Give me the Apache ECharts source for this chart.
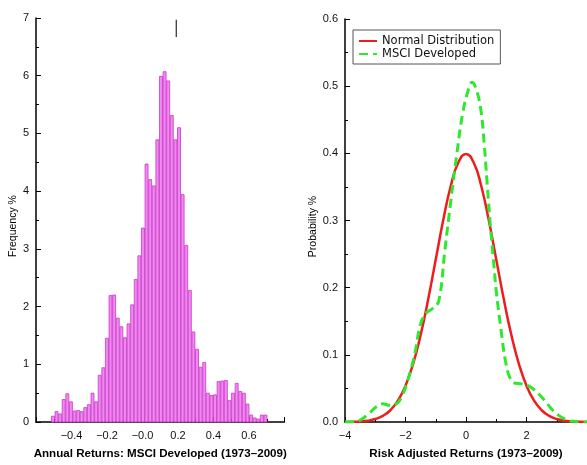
<!DOCTYPE html>
<html>
<head>
<meta charset="utf-8">
<script src="https://cdn.jsdelivr.net/npm/echarts@6/dist/echarts.min.js"></script>
<style>
  html, body { margin: 0; padding: 0; background: #fff; }
  #chart { width: 587px; height: 465px; }
</style>
</head>
<body>
<div id="chart"></div>
<script>
// Histogram of annual returns: bin layout and frequencies (%)
const binStart = -0.515;   // left edge of the first bin
const binWidth = 0.0203;
const frequency = [
  0.10, 0.18, 0.14, 0.39, 0.49, 0.35, 0.19, 0.20, 0.18, 0.25,
  0.30, 0.50, 0.35, 0.81, 0.94, 1.45, 2.19, 2.20, 1.80, 1.65,
  1.46, 1.70, 2.03, 2.47, 2.88, 3.36, 4.47, 4.20, 4.09, 4.89,
  5.99, 6.07, 5.91, 5.31, 4.89, 5.10, 3.94, 3.06, 2.28, 1.56,
  1.26, 0.95, 1.03, 0.50, 0.46, 0.47, 0.70, 0.71, 0.72, 0.37,
  0.50, 0.67, 0.53, 0.50, 0.31, 0.12, 0.07, 0.05, 0.12, 0.12
];
// small vertical marker near the top of the histogram
const meanTick = [[0.19, 6.67], [0.19, 6.97]];

const histXTicks = { min: -0.6, max: 0.8, interval: 0.2 };
const histYTicks = { min: 0, max: 7, interval: 1 };

// Standard normal density, sampled every 0.25
const normalX = [-4, -3.75, -3.5, -3.25, -3, -2.75, -2.5, -2.25, -2, -1.75, -1.5, -1.25, -1, -0.75, -0.5, -0.25,
                 0, 0.25, 0.5, 0.75, 1, 1.25, 1.5, 1.75, 2, 2.25, 2.5, 2.75, 3, 3.25, 3.5, 3.75, 4];
const normalY = [0.0001, 0.0004, 0.0009, 0.0020, 0.0044, 0.0091, 0.0175, 0.0317, 0.0540, 0.0863, 0.1295, 0.1826, 0.2420, 0.3011, 0.3521, 0.3867,
                 0.3989, 0.3867, 0.3521, 0.3011, 0.2420, 0.1826, 0.1295, 0.0863, 0.0540, 0.0317, 0.0175, 0.0091, 0.0044, 0.0020, 0.0009, 0.0004, 0.0001];

// Estimated density of the risk-adjusted MSCI Developed returns
const msciX = [-4.0, -3.7, -3.45, -3.2, -2.95, -2.75, -2.55, -2.3, -2.1, -1.9, -1.7, -1.5, -1.3, -1.1, -0.9, -0.7, -0.5, -0.3, -0.1,
               0.1, 0.2, 0.35, 0.5, 0.6, 0.7, 0.8, 0.9, 1.0, 1.15, 1.3, 1.45, 1.6, 1.8, 2.0, 2.2, 2.4, 2.6, 2.8, 3.0, 3.2, 3.4, 3.6, 3.8, 4.0];
const msciY = [0.000, 0.000, 0.004, 0.013, 0.023, 0.027, 0.025, 0.027, 0.040, 0.066, 0.100, 0.146, 0.163, 0.169, 0.180, 0.255, 0.330, 0.400, 0.462,
               0.498, 0.506, 0.494, 0.462, 0.415, 0.355, 0.295, 0.245, 0.195, 0.140, 0.092, 0.066, 0.058, 0.057, 0.055, 0.050, 0.042, 0.032, 0.021, 0.012, 0.006, 0.002, 0.001, 0.000, 0.000];

const densXTicks = { min: -4, max: 4, interval: 2 };
const densYTicks = { min: 0, max: 0.6, interval: 0.1 };

const FONT = '"Liberation Sans", Arial, sans-serif';
const WIDE_FONT = '"DejaVu Sans", Verdana, sans-serif';
const MINUS = '\u2212';

function fmt(v, digits) {
  const s = Math.abs(v).toFixed(digits);
  return (v < 0 || Object.is(v, -0)) ? MINUS + s : s;
}

const axisLine = { show: true, onZero: false, lineStyle: { color: '#000', width: 1.5 } };
const axisTick = { show: true, inside: true, length: 5, lineStyle: { color: '#000', width: 1 } };
const minorTick = { show: true, splitNumber: 2, length: 3, lineStyle: { color: '#000', width: 1 } };
const tickLabel = { color: '#111', fontSize: 11, fontFamily: FONT };
const nameStyleX = { color: '#000', fontSize: 11.6, fontWeight: 'bold', fontFamily: FONT };
const nameStyleY = { color: '#000', fontSize: 10.5, fontFamily: FONT, padding: [0, 12, 0, 0] };

const histData = frequency.map((v, i) => [binStart + i * binWidth, binStart + (i + 1) * binWidth, v]);

const chart = echarts.init(document.getElementById('chart'), null, { renderer: 'canvas' });
chart.setOption({
  animation: false,
  backgroundColor: '#fff',
  grid: [
    { left: 36, top: 18, width: 248.5, height: 416 },
    { left: 345, top: 19, width: 244, height: 415 }
  ],
  legend: {
    left: 353, top: 30,
    orient: 'vertical',
    data: ['Normal Distribution', 'MSCI Developed'],
    itemWidth: 18, itemHeight: 10, itemGap: 1,
    padding: [5, 6, 4, 5],
    borderColor: '#555', borderWidth: 1,
    itemStyle: { opacity: 0, borderWidth: 0 },
    textStyle: { color: '#111', fontSize: 11.5, fontFamily: WIDE_FONT }
  },
  xAxis: [
    {
      gridIndex: 0, type: 'value', ...histXTicks,
      name: 'Annual Returns: MSCI Developed (1973\u20132009)', nameLocation: 'middle', nameGap: 26,
      nameTextStyle: nameStyleX,
      axisLine, axisTick, minorTick, splitLine: { show: false },
      axisLabel: { ...tickLabel, margin: 8, showMinLabel: false, showMaxLabel: false,
        formatter: v => (Math.abs(v) < 1e-9 ? MINUS + '0.0' : fmt(v, 1)) }
    },
    {
      gridIndex: 1, type: 'value', ...densXTicks,
      name: 'Risk Adjusted Returns (1973\u20132009)', nameLocation: 'middle', nameGap: 26,
      nameTextStyle: nameStyleX,
      axisLine, axisTick, minorTick, splitLine: { show: false },
      axisLabel: { ...tickLabel, margin: 8, showMaxLabel: false, formatter: v => fmt(v, 0) }
    }
  ],
  yAxis: [
    {
      gridIndex: 0, type: 'value', ...histYTicks,
      name: 'Frequency %', nameLocation: 'middle', nameGap: 17, nameTextStyle: nameStyleY,
      axisLine, axisTick, minorTick, splitLine: { show: false },
      axisLabel: { ...tickLabel, margin: 7 }
    },
    {
      gridIndex: 1, type: 'value', ...densYTicks,
      name: 'Probability %', nameLocation: 'middle', nameGap: 26, nameTextStyle: nameStyleY,
      axisLine, axisTick, minorTick, splitLine: { show: false },
      axisLabel: { ...tickLabel, margin: 7, formatter: v => v.toFixed(1) }
    }
  ],
  series: [
    {
      type: 'custom', xAxisIndex: 0, yAxisIndex: 0,
      data: histData,
      encode: { x: [0, 1], y: 2 },
      renderItem: function (params, api) {
        const p0 = api.coord([api.value(0), api.value(2)]);
        const p1 = api.coord([api.value(1), 0]);
        return {
          type: 'rect',
          shape: { x: p0[0] + 0.3, y: p0[1], width: p1[0] - p0[0] - 0.6, height: p1[1] - p0[1] },
          style: { fill: '#f584f5', stroke: '#c23fc2', lineWidth: 0.8 }
        };
      }
    },
    {
      type: 'line', xAxisIndex: 0, yAxisIndex: 0,
      data: meanTick, symbol: 'none', silent: true,
      lineStyle: { color: '#000', width: 1 }
    },
    {
      name: 'Normal Distribution', type: 'line', xAxisIndex: 1, yAxisIndex: 1,
      data: normalX.map((x, i) => [x, normalY[i]]),
      smooth: true, symbol: 'none',
      lineStyle: { color: '#ee1c1c', width: 2.5 },
      itemStyle: { color: '#ee1c1c' }
    },
    {
      name: 'MSCI Developed', type: 'line', xAxisIndex: 1, yAxisIndex: 1,
      data: msciX.map((x, i) => [x, msciY[i]]),
      smooth: 0.4, symbol: 'none',
      lineStyle: { color: '#2ee82e', width: 3, type: [9, 5] },
      itemStyle: { color: '#2ee82e' }
    }
  ]
});
</script>
</body>
</html>
